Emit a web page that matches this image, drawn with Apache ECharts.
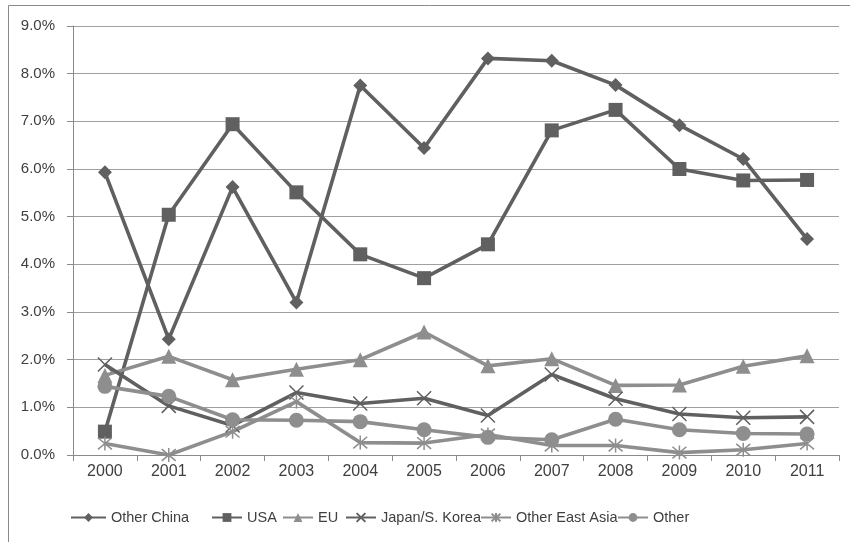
<!DOCTYPE html>
<html>
<head>
<meta charset="utf-8">
<script src="https://cdn.jsdelivr.net/npm/echarts@6/dist/echarts.min.js"></script>
<style>html,body{margin:0;padding:0;background:#fff}#c{width:850px;height:542px}</style>
</head>
<body>
<div id="c"></div>
<script>
const years = ['2000','2001','2002','2003','2004','2005','2006','2007','2008','2009','2010','2011'];
const seriesNames = ['Other China', 'USA', 'EU', 'Japan/S. Korea', 'Other East Asia', 'Other'];
const otherChina = [5.93, 2.43, 5.62, 3.20, 7.75, 6.44, 8.32, 8.27, 7.76, 6.92, 6.21, 4.53];
const usa = [0.49, 5.04, 6.94, 5.51, 4.21, 3.71, 4.42, 6.81, 7.24, 6.00, 5.76, 5.77];
const eu = [1.67, 2.07, 1.58, 1.80, 2.00, 2.58, 1.87, 2.02, 1.46, 1.47, 1.86, 2.08];
const japanKorea = [1.90, 1.03, 0.62, 1.31, 1.08, 1.19, 0.83, 1.69, 1.18, 0.86, 0.78, 0.80];
const otherEastAsia = [0.24, 0.00, 0.49, 1.12, 0.26, 0.25, 0.43, 0.20, 0.20, 0.05, 0.11, 0.24];
const other = [1.44, 1.23, 0.74, 0.73, 0.70, 0.53, 0.37, 0.32, 0.75, 0.53, 0.45, 0.44];
const yTicks = {min: 0, max: 9, interval: 1};

const DARK = '#606060';
const LIGHT = '#8e8e8e';
const FONT = '"Liberation Sans", Arial, sans-serif';
const xPath = 'path://M0,0L10,10M10,0L0,10';
const starPath = 'path://M0,0L10,10M10,0L0,10M5,-1L5,11';

function mk(name, data, color, symbol, size, stroke) {
  return {
    name, type: 'line', data, symbol, symbolSize: size,
    lineStyle: {color, width: 3.6},
    itemStyle: stroke ? {color: 'rgba(0,0,0,0)', borderColor: color, borderWidth: 1.5} : {color},
    emphasis: {disabled: true},
    animation: false
  };
}

// legend positions (left edge of each legend item)
const legendLeft = [70, 211, 282, 345, 480, 617];
const legendIconW = [35, 30, 30, 30, 30, 30];
const legends = seriesNames.map((n, i) => ({
  left: legendLeft[i], top: 510, itemWidth: legendIconW[i], itemHeight: 11, padding: 0,
  textStyle: {color: '#404040', fontFamily: FONT, fontSize: 14.5},
  data: [n]
}));

const chart = echarts.init(document.getElementById('c'), null, {renderer: 'canvas'});
chart.setOption({
  animation: false,
  graphic: [{type: 'rect', shape: {x: 8.5, y: 5.5, width: 900, height: 600}, style: {fill: 'none', stroke: '#8a8a8a', lineWidth: 1}, silent: true}],
  grid: {left: 73, right: 11, top: 26, bottom: 87, containLabel: false},
  xAxis: {
    type: 'category', data: years, boundaryGap: true,
    axisLine: {lineStyle: {color: '#8a8a8a', width: 1}},
    axisTick: {show: true, alignWithLabel: false, length: 6, lineStyle: {color: '#8a8a8a'}},
    axisLabel: {color: '#404040', fontFamily: FONT, fontSize: 16, margin: 9}
  },
  yAxis: {
    type: 'value', min: yTicks.min, max: yTicks.max, interval: yTicks.interval,
    axisLine: {show: true, lineStyle: {color: '#8a8a8a', width: 1}},
    axisTick: {show: true, length: 6, lineStyle: {color: '#8a8a8a'}},
    splitLine: {lineStyle: {color: '#a0a0a0', width: 1}},
    axisLabel: {color: '#404040', fontFamily: FONT, fontSize: 15, margin: 18, formatter: v => v.toFixed(1) + '%'}
  },
  legend: legends,
  series: [
    mk(seriesNames[0], otherChina, DARK, 'diamond', 14),
    mk(seriesNames[1], usa, DARK, 'rect', 14),
    mk(seriesNames[2], eu, LIGHT, 'triangle', 15),
    mk(seriesNames[3], japanKorea, DARK, xPath, 14, true),
    mk(seriesNames[4], otherEastAsia, LIGHT, starPath, 14, true),
    mk(seriesNames[5], other, LIGHT, 'circle', 15)
  ]
});
</script>
</body>
</html>
